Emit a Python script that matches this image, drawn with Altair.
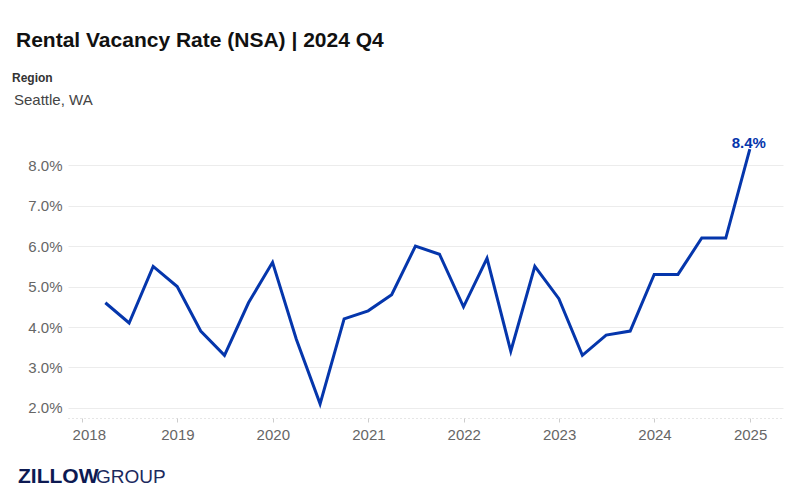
import altair as alt
import pandas as pd

quarter_end = [
    "2018-03-31", "2018-06-30", "2018-09-30", "2018-12-31",
    "2019-03-31", "2019-06-30", "2019-09-30", "2019-12-31",
    "2020-03-31", "2020-06-30", "2020-09-30", "2020-12-31",
    "2021-03-31", "2021-06-30", "2021-09-30", "2021-12-31",
    "2022-03-31", "2022-06-30", "2022-09-30", "2022-12-31",
    "2023-03-31", "2023-06-30", "2023-09-30", "2023-12-31",
    "2024-03-31", "2024-06-30", "2024-09-30", "2024-12-31",
]
vacancy_rate = [
    4.6, 4.1, 5.5, 5.0,
    3.9, 3.3, 4.6, 5.6,
    3.7, 2.1, 4.2, 4.4,
    4.8, 6.0, 5.8, 4.5,
    5.7, 3.4, 5.5, 4.7,
    3.3, 3.8, 3.9, 5.3,
    5.3, 6.2, 6.2, 8.4,
]
y_ticks = [2, 3, 4, 5, 6, 7, 8]
x_years = [2018, 2019, 2020, 2021, 2022, 2023, 2024, 2025]

title_text = "Rental Vacancy Rate (NSA) | 2024 Q4"
region_label = "Region"
region_name = "Seattle, WA"

BLUE = "#0536ac"
FONT = "Liberation Sans"

df = pd.DataFrame({"date": quarter_end, "rate": vacancy_rate})
last = df.tail(1)

x_enc = alt.X(
    "date:T",
    scale=alt.Scale(
        domain=[alt.DateTime(year=2017, month=11, date=8),
                alt.DateTime(year=2025, month=5, date=7)]
    ),
    axis=alt.Axis(
        values=[alt.DateTime(year=y, month=1, date=1) for y in x_years],
        format="%Y", title=None, grid=False,
        labelFontSize=15, labelColor="#666666", labelFont=FONT,
        labelPadding=5, labelFlush=20, labelFlushOffset=10,
        domainColor="#cccccc", domainDash=[1, 3], domainWidth=1,
        tickColor="#cccccc", tickSize=4,
    ),
)
y_enc = alt.Y(
    "rate:Q",
    scale=alt.Scale(domain=[1.75, 8.6], nice=False, zero=False),
    axis=alt.Axis(
        values=y_ticks, title=None, domain=False, ticks=False,
        labelExpr="format(datum.value, '.1f') + '%'",
        labelFontSize=15, labelColor="#666666", labelFont=FONT,
        labelPadding=6, gridColor="#ececec", gridWidth=1,
    ),
)

line = alt.Chart(df).mark_line(color=BLUE, strokeWidth=3).encode(x=x_enc, y=y_enc)

label = alt.Chart(last).transform_calculate(
    lab="format(datum.rate, '.1f') + '%'"
).mark_text(
    color=BLUE, fontWeight="bold", fontSize=15, font=FONT, dy=2, dx=-1, baseline="bottom"
).encode(x="date:T", y="rate:Q", text="lab:N")


def text_layer(txt, x, y, size, weight="normal", color="#000000"):
    return alt.Chart(pd.DataFrame({"t": [txt]})).mark_text(
        align="left", baseline="alphabetic", fontSize=size, fontWeight=weight,
        color=color, font=FONT,
    ).encode(text="t:N", x=alt.value(x), y=alt.value(y))


title = text_layer(title_text, -52, -94, 21, "bold", "#111111")
reg_lab = text_layer(region_label, -56, -59, 12, "bold", "#333333")
reg_name = text_layer(region_name, -54, -36, 15, "normal", "#444444")
logo1 = text_layer("ZILLOW", -50, 342, 21, "bold", "#0d1a52")
logo2 = text_layer("GROUP", 28, 342, 19, "normal", "#1b2a5e")

chart = alt.layer(line, label, title, reg_lab, reg_name, logo1, logo2).properties(
    width=715, height=277,
    background="white",
    autosize=alt.AutoSizeParams(type="none"),
    padding={"left": 60, "top": 133, "right": 8, "bottom": 72},
).configure_view(strokeWidth=0, stroke=None)

chart.save("out.html", embed_options={"renderer": "svg", "actions": False})
